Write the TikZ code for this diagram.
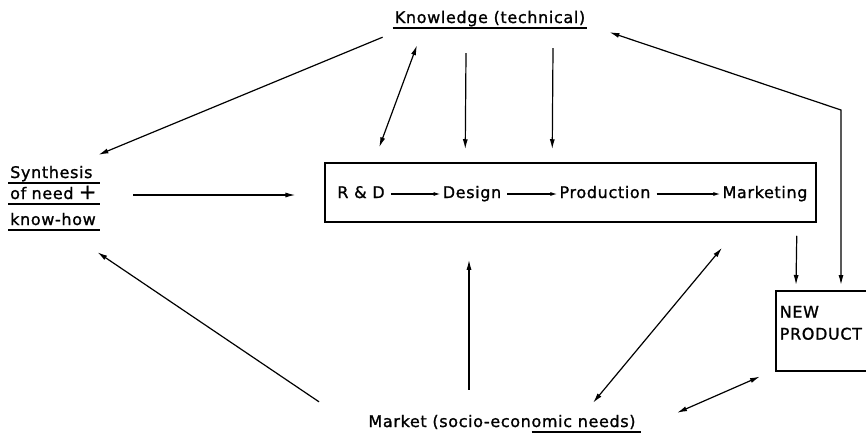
\documentclass[tikz,border=0pt]{standalone}
\usepackage{fontspec}
\setmainfont{DejaVu Sans}[LetterSpace=4, FakeBold=1.2]
\usetikzlibrary{arrows.meta}

\tikzset{
    lbl/.style={inner sep=0pt, text height=12pt, text depth=4pt, font=\fontsize{16}{22}\selectfont},
    ul/.style={lbl, inner xsep=2pt, inner ysep=1pt},
    box/.style={draw, line width=1.5pt, inner sep=0pt},
    uline/.style={line width=1.5pt},
    arr/.style={line width=1.2pt, -{Latex[length=10pt,width=5pt]}},
    darr/.style={line width=1.2pt, {Latex[length=10pt,width=5pt]}-{Latex[length=10pt,width=5pt]}},
    sarr/.style={line width=1.2pt, -{Latex[length=7pt,width=4pt]}}
}

\begin{document}
\begin{tikzpicture}[x=1pt, y=-1pt]
    \useasboundingbox (0,0) rectangle (866,434);

    % Knowledge and market
    \node[ul, anchor=base] (know) at (490,23) {Knowledge (technical)};
    \node[lbl, anchor=base] (mkt) at (502,427) {Market (socio-economic needs)};

    % Synthesis
    \node[ul, anchor=base west, text width=88pt] (syn1) at (8,178) {Synthesis};
    \node[ul, anchor=base west, text width=88pt] (syn2) at (8,199) {of need {\fontsize{21}{22}\selectfont+}};
    \node[ul, anchor=base west, text width=88pt] (syn3) at (8,225) {know-how};

    % Process chain
    \node[box, minimum width=491pt, minimum height=59pt] (proc) at (570.5,192.5) {};
    \node[lbl, anchor=base] (rd) at (361,198) {R \& D};
    \node[lbl, anchor=base] (design) at (472,198) {Design};
    \node[lbl, anchor=base] (prod) at (605,198) {Production};
    \node[lbl, anchor=base] (marketing) at (765,198) {Marketing};
    \draw[sarr] ([xshift=6pt]rd.east) -- ([xshift=-2pt]design.west);
    \draw[sarr] ([xshift=6pt]design.east) -- ([xshift=-2pt]prod.west);
    \draw[sarr] ([xshift=6pt]prod.east) -- ([xshift=-2pt]marketing.west);

    % New product
    \node[box, anchor=north west, minimum width=92pt, minimum height=80pt, text width=84pt,
          inner xsep=4pt, align=left, font=\fontsize{16}{22}\selectfont] (newp) at (775,290) {NEW\\PRODUCT\\[-6pt]\mbox{}};

    % Underlines
    \foreach \n in {know,syn1,syn2,syn3}
        \draw[uline] (\n.south west) -- (\n.south east);
    \draw[uline] ([xshift=-104pt,yshift=-1pt]mkt.south east) -- ([xshift=5pt,yshift=-1pt]mkt.south east);

    % From knowledge
    \draw[arr] ([xshift=-10pt,yshift=-9pt]know.south west) -- ([xshift=-2pt,yshift=10pt]syn1.north east);
    \draw[darr] ([xshift=-73pt,yshift=-17pt]know.south) -- ([xshift=55pt,yshift=15pt]proc.north west);
    \draw[arr] ([xshift=-24pt,yshift=-25pt]know.south) -- ([xshift=141pt,yshift=13pt]proc.north west);
    \draw[arr] ([xshift=63pt,yshift=-20pt]know.south) -- ([xshift=228pt,yshift=13pt]proc.north west);
    \coordinate (bend) at (841,110);
    \draw[darr] ([xshift=66pt,yshift=5pt]newp.north west) -- (bend) -- ([xshift=22pt,yshift=-4pt]know.south east);

    % Synthesis to process
    \draw[arr] ([xshift=33pt]syn2.east) -- ([xshift=195pt]syn2.east);

    % From market
    \draw[arr] ([xshift=-183pt,yshift=13pt]mkt.north) -- ([xshift=-3pt,yshift=-22pt]syn3.south east);
    \draw[arr] ([xshift=-33pt,yshift=25pt]mkt.north) -- ([xshift=-101.5pt,yshift=-37pt]proc.south);
    \draw[darr] ([xshift=91pt,yshift=12pt]mkt.north) -- ([xshift=151.5pt,yshift=-25pt]proc.south);
    \draw[darr] ([xshift=175pt,yshift=2pt]mkt.north) -- ([xshift=-15pt,yshift=-5pt]newp.south west);

    % Marketing to new product
    \draw[arr] ([xshift=-20pt,yshift=-13pt]proc.south east) -- ([xshift=21pt,yshift=5pt]newp.north west);
\end{tikzpicture}
\end{document}
